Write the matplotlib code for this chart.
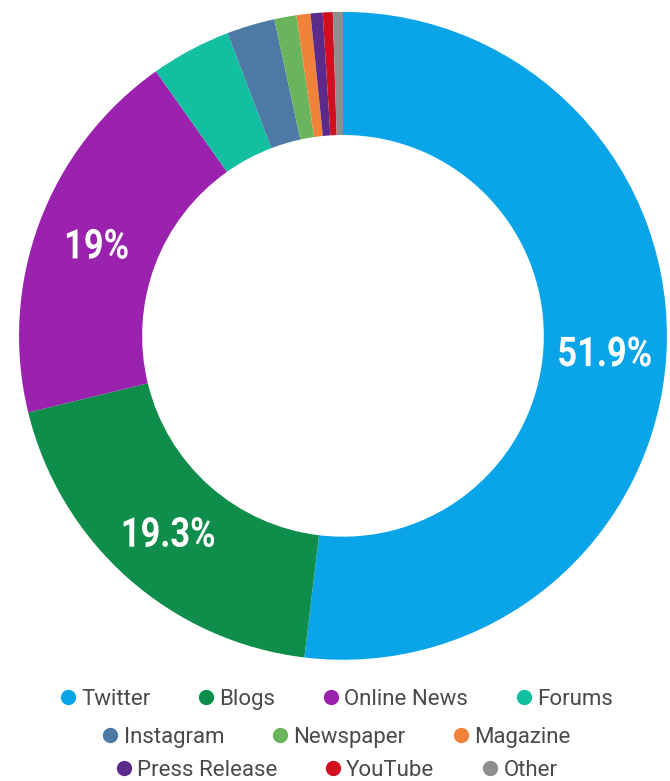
import matplotlib.pyplot as plt
import numpy as np
from matplotlib.font_manager import FontProperties
from matplotlib.patches import PathPatch
from matplotlib.textpath import TextPath
from matplotlib.transforms import Affine2D, ScaledTranslation

# Share of mentions by source
sources = ["Twitter", "Blogs", "Online News", "Forums", "Instagram",
           "Newspaper", "Magazine", "Press Release", "YouTube", "Other"]
shares = [51.9, 19.3, 19.0, 4.0, 2.4, 1.1, 0.7, 0.6, 0.5, 0.5]
labels = ["51.9%", "19.3%", "19%", "", "", "", "", "", "", ""]
colors = ["#0AA4E8", "#0E8E4A", "#9A22AE", "#12BFA0", "#4C7AA5",
          "#6AB45B", "#F0823A", "#5C2A8A", "#D0101E", "#8E8E8E"]

fig = plt.figure(figsize=(6.7, 7.81), dpi=100)
ax = fig.add_axes([0.0284, 0.155, 0.967, 0.830])

wedges, _ = ax.pie(shares, colors=colors, startangle=90, counterclock=False,
                   radius=1.0, wedgeprops=dict(width=0.38, linewidth=0))
ax.set_xlim(-1, 1)
ax.set_ylim(-1, 1)
ax.set_aspect("equal")

# percent labels in the middle of the ring, condensed bold look
fp = FontProperties(family="Roboto", weight="bold")
cum = np.cumsum([0] + shares)
for i, lab in enumerate(labels):
    if not lab:
        continue
    mid = (cum[i] + cum[i + 1]) / 2 / 100 * 360
    ang = np.deg2rad(90 - mid)
    r = 0.81
    tp = TextPath((0, 0), lab, size=10, prop=fp)
    ext = tp.get_extents()
    sy = 30.0 / ext.height          # ~30 px tall
    sx = 0.84 * sy                  # squeezed horizontally
    trans = (Affine2D().translate(-(ext.x0 + ext.x1) / 2, -(ext.y0 + ext.y1) / 2)
             .scale(sx / fig.dpi, sy / fig.dpi)
             + fig.dpi_scale_trans
             + ScaledTranslation(r * np.cos(ang), r * np.sin(ang), ax.transData))
    ax.add_patch(PathPatch(tp, transform=trans, facecolor="white",
                           edgecolor="none"))

# legend: three centred rows
rows = [(0, 4, 0.104), (4, 7, 0.056), (7, 10, 0.014)]
for start, stop, y in rows:
    handles = [plt.Line2D([], [], marker="o", linestyle="", markersize=10,
                          color=colors[k]) for k in range(start, stop)]
    leg = fig.legend(handles, sources[start:stop], loc="center",
                     bbox_to_anchor=(0.5, y), ncol=stop - start, frameon=False,
                     handletextpad=0.1, columnspacing=2.0, handlelength=1.0,
                     prop={"family": "Roboto", "size": 16})
    for t in leg.get_texts():
        t.set_color("#4a4a4a")

fig.savefig("out.png", dpi=100)
